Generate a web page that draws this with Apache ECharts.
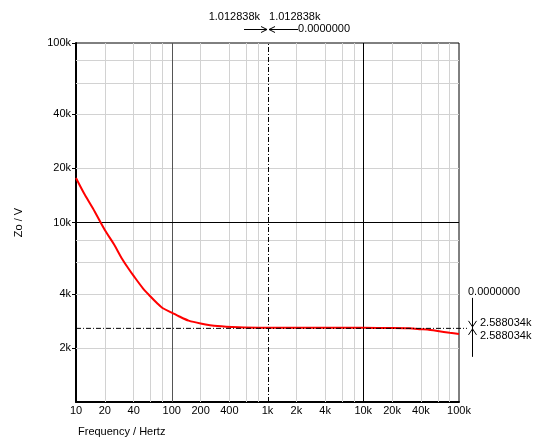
<!DOCTYPE html>
<html><head><meta charset="utf-8">
<script src="https://cdn.jsdelivr.net/npm/echarts@6/dist/echarts.min.js"></script>
<style>html,body{margin:0;padding:0;background:#fff}#c{width:539px;height:441px}</style>
</head><body><div id="c"></div>
<script>
const freq = [10, 12, 15, 20, 25, 30, 35, 40, 50, 60, 70, 80, 100, 120, 150, 200, 300, 500, 1000, 2000, 5000, 10000, 20000, 30000, 40000, 50000, 60000, 80000, 100000];
const zo   = [17700, 14700, 12000, 9080, 7540, 6330, 5580, 5040, 4300, 3870, 3560, 3340, 3150, 2995, 2840, 2740, 2650, 2610, 2592, 2589, 2588, 2588, 2585, 2575, 2544, 2518, 2486, 2430, 2390];
const xTickLabels = [10, 20, 40, 100, 200, 400, 1000, 2000, 4000, 10000, 20000, 40000, 100000];
const yTickLabels = [2000, 4000, 10000, 20000, 40000, 100000];
const xMinorGrid = [20, 40, 60, 80, 200, 400, 600, 800, 2000, 4000, 6000, 8000, 20000, 40000, 60000, 80000];
const yMinorGrid = [2000, 4000, 6000, 8000, 20000, 40000, 60000, 80000];
const xMajorGrid = [100, 10000];
const yMajorGrid = [10000];
const cursorX = 1012.838;
const cursorY = 2588.034;
const cursorXText = '1.012838k';
const cursorYText = '2.588034k';
const deltaText = '0.0000000';

const FONT = "'Liberation Sans', Arial, sans-serif";
function fmt(v) { return v >= 1000 ? (v / 1000) + 'k' : String(v); }

const chart = echarts.init(document.getElementById('c'), null, { renderer: 'canvas' });

const gridLines = [];
xMinorGrid.forEach(v => gridLines.push({ xAxis: v, lineStyle: { color: '#d2d2d2', width: 1, type: 'solid' } }));
yMinorGrid.forEach(v => gridLines.push({ yAxis: v, lineStyle: { color: '#d2d2d2', width: 1, type: 'solid' } }));
xMajorGrid.forEach((v, i) => gridLines.push({ xAxis: v, lineStyle: { color: i === 0 ? '#555' : '#000', width: 1, type: 'solid' } }));
yMajorGrid.forEach(v => gridLines.push({ yAxis: v, lineStyle: { color: '#000', width: 1, type: 'solid' } }));
gridLines.push({ xAxis: cursorX, lineStyle: { color: '#000', width: 1, type: [5, 2, 1, 2] } });

chart.setOption({
  animation: false,
  backgroundColor: '#fff',
  textStyle: { fontFamily: FONT },
  grid: { left: 76, right: 80, top: 43, bottom: 39, show: true, borderColor: '#000', borderWidth: 1, backgroundColor: 'transparent' },
  xAxis: {
    type: 'log', logBase: 10, min: 10, max: 100000,
    axisLine: { show: true, lineStyle: { color: '#000', width: 2 } },
    axisTick: { show: false },
    axisLabel: { customValues: xTickLabels, formatter: fmt, color: '#000', fontSize: 11, fontFamily: FONT, margin: 3 },
    splitLine: { show: false }, minorTick: { show: false }, minorSplitLine: { show: false }
  },
  yAxis: {
    type: 'log', logBase: 10, min: 1000, max: 100000,
    name: 'Zo / V', nameLocation: 'middle', nameGap: 52,
    nameTextStyle: { color: '#000', fontSize: 11, fontFamily: FONT },
    axisLine: { show: true, lineStyle: { color: '#000', width: 2 } },
    axisTick: { show: true, customValues: yTickLabels, length: 4, lineStyle: { color: '#000', width: 1 } },
    axisLabel: { customValues: yTickLabels, formatter: fmt, color: '#000', fontSize: 11, fontFamily: FONT, margin: 5 },
    splitLine: { show: false }, minorTick: { show: false }, minorSplitLine: { show: false }
  },
  series: [
    {
      type: 'line', data: [], z: 1, silent: true,
      markLine: { silent: true, symbol: ['none', 'none'], label: { show: false }, animation: false, data: gridLines }
    },
    {
      type: 'line', z: 5, silent: true, showSymbol: false, smooth: 0.3,
      data: freq.map((f, i) => [f, zo[i]]),
      lineStyle: { color: '#ff0000', width: 2 }
    }
  ]
});

const cx = chart.convertToPixel({ xAxisIndex: 0 }, cursorX);
const cy = chart.convertToPixel({ yAxisIndex: 0 }, cursorY);
const gl = chart.convertToPixel({ xAxisIndex: 0 }, 10);
const gr = chart.convertToPixel({ xAxisIndex: 0 }, 100000);
const gt = chart.convertToPixel({ yAxisIndex: 0 }, 100000);
const gb = chart.convertToPixel({ yAxisIndex: 0 }, 1000);

const ts = { fontSize: 11, fontFamily: FONT, fill: '#000' };
const ls = { stroke: '#000', lineWidth: 1 };
function line(x1, y1, x2, y2, extra) {
  return { type: 'line', shape: { x1, y1, x2, y2 }, style: Object.assign({}, ls, extra || {}), z: 10, silent: true };
}
function text(x, y, t, align, vAlign) {
  return { type: 'text', x, y, style: Object.assign({ text: t, align: align, verticalAlign: vAlign || 'middle' }, ts), z: 10, silent: true };
}

const ay = gt - 14;
const tyTop = gt - 26;
const rx = gr + 13;
const graphics = [
  line(gl, cy + 0.5, rx - 5, cy + 0.5, { lineDash: [5, 2, 1, 2] }),
  text(cx - 8, tyTop, cursorXText, 'right'),
  text(cx + 1, tyTop, cursorXText, 'left'),
  line(cx - 24, ay + 0.5, cx - 1, ay + 0.5),
  line(cx - 1, ay + 0.5, cx - 7, ay - 2.5),
  line(cx - 1, ay + 0.5, cx - 7, ay + 3.5),
  line(cx + 1, ay + 0.5, cx + 30, ay + 0.5),
  line(cx + 1, ay + 0.5, cx + 7, ay - 2.5),
  line(cx + 1, ay + 0.5, cx + 7, ay + 3.5),
  text(cx + 30, ay, deltaText, 'left'),
  text(gr + 9, cy - 36, deltaText, 'left'),
  line(rx + 0.5, cy - 30, rx + 0.5, cy + 29),
  line(rx + 0.5, cy - 1, rx - 3.5, cy - 7),
  line(rx + 0.5, cy - 1, rx + 4.5, cy - 7),
  line(rx + 0.5, cy + 1, rx - 3.5, cy + 7),
  line(rx + 0.5, cy + 1, rx + 4.5, cy + 7),
  text(gr + 21, cy - 5, cursorYText, 'left'),
  text(gr + 21, cy + 8, cursorYText, 'left'),
  text(gl + 2, gb + 30, 'Frequency / Hertz', 'left')
];
chart.setOption({ graphic: graphics });
</script>
</body></html>
